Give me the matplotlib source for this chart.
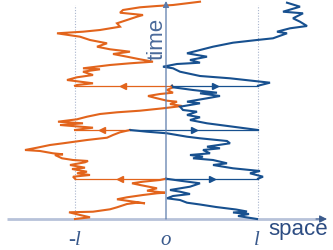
import matplotlib
matplotlib.use('Agg')
import matplotlib.pyplot as plt

# space measured from the origin o, boundaries at -l and +l
L = 91.5

# orange path (starts at -l), pieces between resets: (space, time)
orange_x = [
    [-91, -76, -86, -97, -73, -56, -49, -39, -29, -21, -49, -39, -23, -9, -1, -19, -9, -26, -34, -23, -6, 0],
    [-91, -93, -76, -89, -79, -94, -81, -96, -81, -78, -93, -104, -111, -103, -113, -126, -141, -129, -116, -103, -79, -59, -53, -46, -36],
    [-91, -73, -106, -83, -108, -89, -79, -66, -49, -26, -3, 16, 4, 11, 1, -9, -18, -6, 7, 1, 7, 6],
    [-91, -89, -73, -99, -89, -73, -83, -66, -83, -56, -36, -13, -26, -39, -53, -36, -56, -69, -59, -76, -86, -109, -83, -66, -46, -49, -29, -23, -46, -43, -26, -9, 7, 21, 34],
]
orange_t = [
    [0, 1.7, 4, 6.7, 7.3, 9.7, 11.7, 15, 16.3, 15.7, 19.7, 21.7, 24, 25.7, 26.3, 28.3, 30.7, 34, 35.7, 37.3, 39, 40.3],
    [40.3, 42.3, 44, 45.7, 47.3, 50, 51.3, 54, 56.7, 58, 59, 60.7, 64, 64.7, 65.7, 68, 69, 71.3, 74, 75.7, 79, 81.3, 84, 86.7, 89],
    [89, 91.3, 94, 95.7, 97.3, 99.7, 102.3, 105, 106.7, 108.3, 110.7, 113, 115, 117.3, 118.3, 120.7, 123, 125, 126.3, 129, 131.7, 133.3],
    [133.3, 134, 135.7, 139, 141.7, 144, 147.3, 149.7, 150.7, 154, 155.7, 157.3, 159.7, 162.3, 165, 167.3, 169.7, 172.3, 175.7, 179, 182.3, 185.7, 187.3, 189, 192.3, 195.7, 202.3, 204, 206.3, 209, 211.7, 213, 214, 215.7, 217.3],
]

# blue path (starts at +l)
blue_x = [
    [91, 72, 83, 67, 81, 70, 50, 34, 21, 14, 1, 7, 24, 14, 4, 24, 34, 14, 0],
    [92, 97, 84, 94, 67, 47, 61, 47, 27, 37, 24, 44, 37, 54, 41, 64, 61, 34, 21, 1, -19, -36],
    [92, 67, 41, 24, 34, 21, 31, 17, 14, 24, 34, 21, 41, 54, 34, 51, 27, 7, 6],
    [92, 104, 64, 34, 14, 7, -3, 11, 34, 24, 41, 21, 34, 47, 67, 91, 107, 121, 111, 124, 141, 134, 127, 137, 117, 134, 121],
]
blue_t = [
    [0, 3, 5, 6.5, 7.5, 9.5, 12, 14.5, 16.3, 19, 20.7, 23, 25, 27.3, 29, 32.3, 35.7, 38.3, 40.3],
    [40.3, 42.3, 45.7, 48, 50.7, 54, 55.7, 59, 60.7, 62.3, 64, 65.7, 69, 70.7, 72.3, 75.7, 78, 80.7, 82.3, 85.7, 87.3, 89],
    [89, 92.3, 95.7, 99, 101.7, 104, 107.3, 109, 112.3, 114, 115.7, 117.3, 120.7, 123, 125.7, 126.3, 129, 131.7, 133.3],
    [133.3, 136.3, 140.7, 143, 147.3, 150.7, 152.3, 155, 156.3, 159, 162.3, 165.7, 169, 172.3, 176.3, 179, 180.7, 185.7, 187.3, 190.7, 193, 197.3, 200.7, 205.7, 207.3, 212.3, 216.3],
]

# resets: (space where the paths meet, time)
reset_x = [0, -36, 6]
reset_t = [40.3, 89, 133.3]

orange = '#e2641c'
blue = '#17508f'
axis_col = '#5b7bab'
lab = '#3a5a8c'

fig = plt.figure(figsize=(3.33, 2.5), dpi=100)
ax = fig.add_axes([0, 0, 1, 1])
ax.set_xlim(-166, 167)
ax.set_ylim(-31, 219)
ax.axis('off')

# dotted boundaries
for xb in (-L, L):
    ax.plot([xb, xb], [0, 214], color='#a9b5cd', lw=0.8, ls=(0, (1, 1.5)))

# space axis: pale line, dark head
ax.plot([-159, 154], [0, 0], color='#b7c2d9', lw=2, solid_capstyle='butt')
ax.annotate('', xy=(161, 0), xytext=(150, 0),
            arrowprops=dict(arrowstyle='-|>', color='#3b5b8c', lw=0.8,
                            mutation_scale=11, shrinkA=0, shrinkB=0))
# time axis
ax.annotate('', xy=(0, 218), xytext=(0, 0),
            arrowprops=dict(arrowstyle='-|>', color=axis_col, lw=0.9,
                            mutation_scale=9, shrinkA=0, shrinkB=0))

for xs, ts in zip(orange_x, orange_t):
    ax.plot(xs, ts, color=orange, lw=1.5, solid_joinstyle='miter')
for xs, ts in zip(blue_x, blue_t):
    ax.plot(xs, ts, color=blue, lw=1.5, solid_joinstyle='miter')

# reset jumps back to the boundaries
for xr, tr in zip(reset_x, reset_t):
    ax.plot([xr, -L], [tr, tr], color=orange, lw=0.9)
    ax.plot([xr, L], [tr, tr], color=blue, lw=0.9)
    ax.plot((xr - L) / 2, tr, marker='<', ms=4, color=orange)
    ax.plot((xr + L) / 2, tr, marker='>', ms=4, color=blue)

serif = dict(fontsize=15, family='Liberation Serif', style='italic',
             color=lab, va='baseline', ha='center')
ax.text(-L, -26, '-l', **serif)
ax.text(0, -26, 'o', **serif)
ax.text(L - 1, -26, 'l', **serif)
ax.text(132, -16, 'space', ha='center', va='baseline', fontsize=16,
        family='Liberation Sans', color='#2c4c82')
ax.text(-9, 180, 'time', ha='center', va='center', fontsize=16, rotation=90,
        family='Liberation Sans', color='#4a6a9a')

fig.savefig('out.png', dpi=100)
